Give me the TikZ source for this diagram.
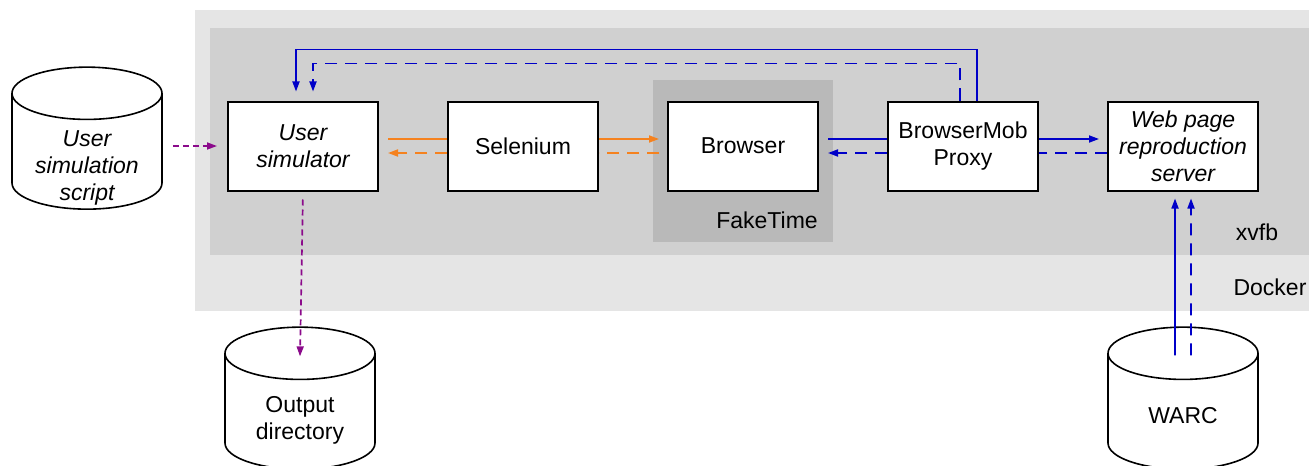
\documentclass[tikz,border=0pt]{standalone}
\usepackage{fontspec}
\setmainfont{Liberation Sans}
\usetikzlibrary{shapes.geometric,arrows.meta}

\definecolor{dockergray}{HTML}{E5E5E5}
\definecolor{xvfbgray}{HTML}{D0D0D0}
\definecolor{fakegray}{HTML}{B9B9B9}
\definecolor{linkblue}{HTML}{0000C8}
\definecolor{linkorange}{HTML}{F5821F}
\definecolor{linkpurple}{HTML}{8B0A8B}

\begin{document}
\begin{tikzpicture}[x=0.5pt, y=-0.5pt,
	font=\fontsize{11.5}{13.5}\selectfont,
	box/.style={draw, fill=white, line width=1pt, minimum width=75pt, minimum height=44.5pt, align=center},
	store/.style={cylinder, shape border rotate=90, text width=40pt, aspect=0.56, draw, fill=white, line width=0.8pt, minimum width=75pt, minimum height=71pt},
	link/.style={line width=0.85pt},
	tip/.style={-{Triangle[length=5pt,width=3.5pt]}},
	back/.style={dash pattern=on 6pt off 4pt}]
	\useasboundingbox (0,0) rectangle (1309,465);
	% containers
	\fill[dockergray] (195,10) rectangle (1309,311);
	\fill[xvfbgray] (210,28) rectangle (1309,255);
	\fill[fakegray] (653,80) rectangle (833,242);
	\node at (767,220) (faketime){FakeTime};
	\node at (1257,232) (xvfb){xvfb};
	\node at (1270,287) (docker){Docker};
	% components
	\node[box] at (303,146) (usersim){\itshape User\\\itshape simulator};
	\node[box] at (523,146) (selenium){Selenium};
	\node[box] at (743,146) (browser){Browser};
	\node[box] at (963,146) (proxy){BrowserMob\\Proxy};
	\node[box] at (1183,146) (wpr){\itshape Web page\\\itshape reproduction\\\itshape server};
	% stores
	\node[store] at (87,157) (script){};
	\node[align=center] at (87,168) (scripttext){\itshape User\\\itshape simulation\\\itshape script};
	\node[store] at (300,417) (outdir){};
	\node[align=center] at (300,420) (outdirtext){Output\\directory};
	\node[store] at (1183,417) (warc){};
	\node at (1183,416) (warctext){WARC};
	% user simulation
	\draw[link, linkpurple, densely dashed, tip, shorten <=5pt, shorten >=5pt] (script.east |- usersim.west) -- (usersim.west);
	\draw[link, linkpurple, densely dashed, tip, shorten <=4pt] (usersim.south) -- ([yshift=-15pt]outdir.north);
	% selenium
	\draw[link, linkorange, shorten <=4.5pt] ([yshift=3.5pt]usersim.east) -- ([yshift=3.5pt]selenium.west);
	\draw[link, linkorange, tip, shorten >=4pt] ([yshift=3.5pt]selenium.east) -- ([yshift=3.5pt]browser.west);
	\draw[link, linkorange, back, shorten <=4pt] ([yshift=-3.5pt]browser.west) -- ([yshift=-3.5pt]selenium.east);
	\draw[link, linkorange, back, tip, shorten >=4.5pt] ([yshift=-3.5pt]selenium.west) -- ([yshift=-3.5pt]usersim.east);
	% proxy
	\draw[link, linkblue, shorten <=4.5pt] ([yshift=3.5pt]browser.east) -- ([yshift=3.5pt]proxy.west);
	\draw[link, linkblue, tip, shorten >=4pt] ([yshift=3.5pt]proxy.east) -- ([yshift=3.5pt]wpr.west);
	\draw[link, linkblue, back] ([yshift=-3.5pt]wpr.west) -- ([yshift=-3.5pt]proxy.east);
	\draw[link, linkblue, back, tip, shorten >=4.5pt] ([yshift=-3.5pt]proxy.west) -- ([yshift=-3.5pt]browser.east);
	\draw[link, linkblue, tip, shorten >=4.5pt] ([xshift=7pt]proxy.north) -- ++(0,-51) -| ([xshift=-3.5pt]usersim.north);
	\draw[link, linkblue, back, tip, shorten >=4.5pt] ([xshift=-1.5pt]proxy.north) -- ++(0,-37) -| ([xshift=5pt]usersim.north);
	% archive
	\draw[link, linkblue, tip, shorten >=3.5pt] ([xshift=-4pt,yshift=-14.5pt]warc.north) -- ([xshift=-4pt]wpr.south);
	\draw[link, linkblue, back, tip, shorten >=3.5pt] ([xshift=4pt,yshift=-14.5pt]warc.north) -- ([xshift=4pt]wpr.south);
\end{tikzpicture}
\end{document}
